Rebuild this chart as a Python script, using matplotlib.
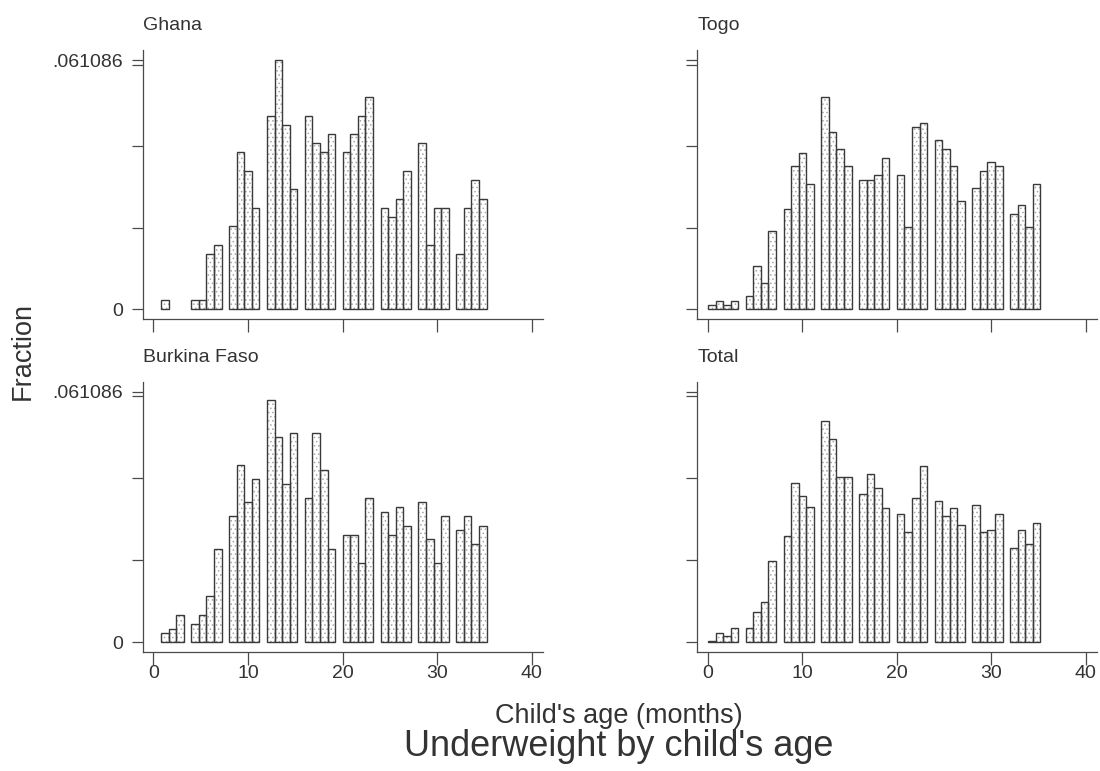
import numpy as np
import matplotlib
matplotlib.use("Agg")
import matplotlib.pyplot as plt

plt.rcParams['font.family'] = ['Liberation Sans', 'DejaVu Sans']
plt.rcParams['hatch.linewidth'] = 0.6

# ---- data (fraction of children by age in months) ----
ages = list(range(36))
panel_names = ["Ghana", "Togo", "Burkina Faso", "Total"]

ghana = [0.0, 0.00226, 0.0, 0.0, 0.00226, 0.00226, 0.01357, 0.01584, 0.02036,
         0.03846, 0.03394, 0.02489, 0.04751, 0.06109, 0.04525, 0.02941, 0.04751,
         0.04072, 0.03846, 0.04299, 0.03846, 0.04299, 0.04751, 0.05204, 0.02489,
         0.02262, 0.02715, 0.03394, 0.04072, 0.01584, 0.02489, 0.02489, 0.01357,
         0.02489, 0.03167, 0.02715]
togo = [0.0009, 0.0020, 0.0009, 0.0020, 0.0031, 0.0105, 0.0064, 0.0191, 0.0245,
        0.0351, 0.0382, 0.0308, 0.0520, 0.0435, 0.0393, 0.0351, 0.0318, 0.0318,
        0.0330, 0.0372, 0.0330, 0.0201, 0.0447, 0.0456, 0.0416, 0.0393, 0.0351,
        0.0265, 0.0297, 0.0340, 0.0361, 0.0351, 0.0233, 0.0255, 0.0201, 0.0308]
burkina = [0.0, 0.0023, 0.0033, 0.0067, 0.0045, 0.0067, 0.0113, 0.0228, 0.0307,
           0.0432, 0.0341, 0.0398, 0.0591, 0.0500, 0.0385, 0.0510, 0.0353, 0.0510,
           0.0420, 0.0228, 0.0261, 0.0261, 0.0193, 0.0353, 0.0318, 0.0261, 0.0330,
           0.0283, 0.0341, 0.0251, 0.0193, 0.0307, 0.0273, 0.0307, 0.0240, 0.0283]
total = [0.0002, 0.0022, 0.0016, 0.0035, 0.0035, 0.0074, 0.0098, 0.0199, 0.0260,
         0.0388, 0.0358, 0.0331, 0.0540, 0.0496, 0.0402, 0.0402, 0.0362, 0.0411,
         0.0376, 0.0328, 0.0314, 0.0270, 0.0353, 0.0429, 0.0344, 0.0309, 0.0328,
         0.0287, 0.0336, 0.0270, 0.0273, 0.0314, 0.0229, 0.0273, 0.0239, 0.0291]
panel_values = [ghana, togo, burkina, total]

bin_width = 0.8
n_bins = 44
y_ticks = [0, 0.02, 0.04, 0.06, 0.061086]
y_ticklabels = ["0", "", "", "", ".061086"]
x_ticks = [0, 10, 20, 30, 40]
x_ticklabels = ["0", "10", "20", "30", "40"]

title = "Underweight by child's age"
xlabel = "Child's age (months)"
ylabel = "Fraction"

# ---- figure ----
W, H = 1100, 771
fig = plt.figure(figsize=(W / 100, H / 100), dpi=100)
fig.patch.set_facecolor("white")

line_col = "#4a4a4a"
text_col = "#333333"
edges = np.round(np.arange(n_bins + 1) * bin_width, 6)

lefts_px = [142.7, 697.3]
right_px = [543.0, 1096.7]
tops_px = [50.0, 381.7]
bottoms_px = [319.3, 652.3]

for i, (name, vals) in enumerate(zip(panel_names, panel_values)):
    r, c = divmod(i, 2)
    l = lefts_px[c] / W
    w = (right_px[c] - lefts_px[c]) / W
    b = 1 - bottoms_px[r] / H
    h = (bottoms_px[r] - tops_px[r]) / H
    ax = fig.add_axes([l, b, w, h])

    _, _, p1 = ax.hist(ages, bins=edges, weights=vals, facecolor="white",
                       edgecolor="#a8a8a8", hatch="....", linewidth=0)
    _, _, p2 = ax.hist(ages, bins=edges, weights=vals, facecolor="none",
                       edgecolor="#3a3a3a", linewidth=1.0)
    for pa, pb in zip(p1, p2):
        if pa.get_height() <= 0:
            pa.set_visible(False)
            pb.set_visible(False)

    ax.set_xlim(-1.14, 41.17)
    ax.set_ylim(-0.00250, 0.06360)
    for s in ["top", "right"]:
        ax.spines[s].set_visible(False)
    for s in ["left", "bottom"]:
        ax.spines[s].set_color(line_col)
        ax.spines[s].set_linewidth(0.9)

    ax.set_yticks(y_ticks)
    ax.set_xticks(x_ticks)
    if c == 0:
        ax.set_yticklabels(y_ticklabels)
    else:
        ax.set_yticklabels([])
    if r == 1:
        ax.set_xticklabels(x_ticklabels)
    else:
        ax.set_xticklabels([])
    ax.tick_params(axis="y", length=8, width=0.9, color=line_col,
                   labelsize=14, labelcolor=text_col, pad=6)
    ax.tick_params(axis="x", length=9, width=0.9, color=line_col,
                   labelsize=14, labelcolor=text_col, pad=0)

    fig.text(lefts_px[c] / W, 1 - (tops_px[r] - 24.5) / H, name,
             ha="left", va="center", fontsize=14, color=text_col)

fig.text(23 / W, 1 - 351 / H, ylabel, rotation=90, ha="center", va="center",
         fontsize=19.5, color=text_col)
fig.text(619 / W, 1 - 716 / H, xlabel, ha="center", va="center",
         fontsize=19.5, color=text_col)
fig.text(619 / W, 1 - 747 / H, title, ha="center", va="center",
         fontsize=26, color=text_col)

fig.savefig("out.png", dpi=100, facecolor="white")
